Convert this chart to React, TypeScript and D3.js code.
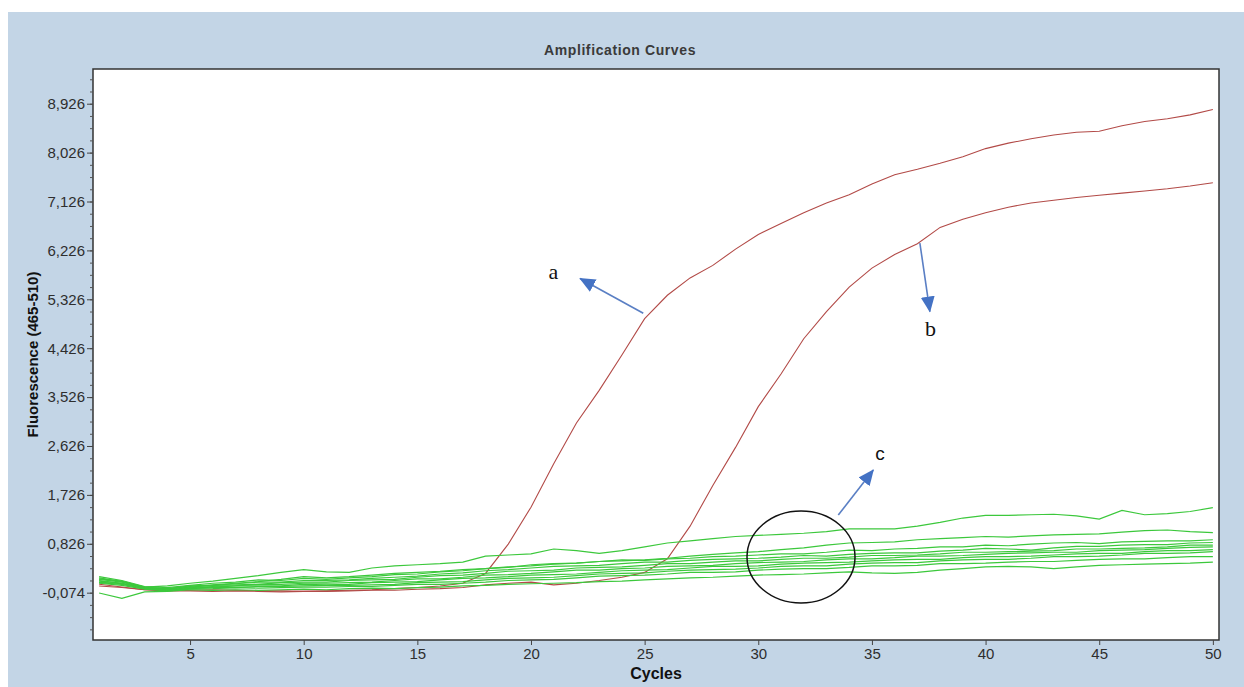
import React, { useEffect, useRef } from 'react';
import * as d3 from 'd3';

// cycles on the x axis
const cycles = [
  1, 2, 3, 4, 5, 6, 7, 8, 9, 10, 11, 12, 13, 14, 15, 16, 17, 18, 19, 20, 21, 22, 23, 24, 25,
  26, 27, 28, 29, 30, 31, 32, 33, 34, 35, 36, 37, 38, 39, 40, 41, 42, 43, 44, 45, 46, 47, 48, 49, 50,
];

// positive samples (red)
const curveA = [
  0.05, 0.02, -0.02, -0.03, -0.03, -0.02, -0.03, -0.04, -0.04, -0.05, -0.04, -0.03, -0.02, 0.0, 0.02,
  0.05, 0.1, 0.28, 0.82, 1.5, 2.3, 3.05, 3.65, 4.3, 4.97, 5.4, 5.72, 5.95, 6.25, 6.52, 6.72, 6.92,
  7.1, 7.25, 7.45, 7.62, 7.72, 7.83, 7.95, 8.1, 8.2, 8.28, 8.35, 8.4, 8.42, 8.52, 8.6, 8.65, 8.72, 8.82,
];
const curveB = [
  0.08, 0.03, -0.02, -0.04, -0.04, -0.05, -0.04, -0.05, -0.06, -0.05, -0.05, -0.04, -0.03, -0.03, -0.01,
  0.0, 0.02, 0.07, 0.1, 0.12, 0.07, 0.1, 0.15, 0.21, 0.3, 0.55, 1.15, 1.9, 2.6, 3.35, 3.95, 4.6, 5.1,
  5.55, 5.9, 6.15, 6.35, 6.65, 6.8, 6.92, 7.02, 7.1, 7.15, 7.2, 7.24, 7.28, 7.32, 7.36, 7.41, 7.47,
];
const redSeries = [curveA, curveB];

// negative samples (green)
const g1 = [
  0.18, 0.14, 0.03, 0.05, 0.1, 0.14, 0.19, 0.24, 0.3, 0.35, 0.31, 0.3, 0.38, 0.42, 0.44, 0.46, 0.49,
  0.6, 0.62, 0.64, 0.73, 0.7, 0.65, 0.7, 0.77, 0.84, 0.88, 0.92, 0.96, 0.98, 1.0, 1.02, 1.05, 1.1, 1.1,
  1.1, 1.15, 1.22, 1.3, 1.35, 1.35, 1.36, 1.37, 1.34, 1.28, 1.44, 1.36, 1.38, 1.42, 1.49,
];
const g2 = [
  0.15, 0.1, 0.02, 0.0, 0.04, 0.07, 0.1, 0.13, 0.17, 0.22, 0.2, 0.22, 0.25, 0.28, 0.3, 0.32, 0.35, 0.37,
  0.4, 0.42, 0.45, 0.47, 0.5, 0.51, 0.53, 0.56, 0.6, 0.63, 0.66, 0.68, 0.72, 0.75, 0.8, 0.84, 0.85, 0.86,
  0.9, 0.92, 0.94, 0.96, 0.95, 0.97, 0.99, 1.0, 1.01, 1.04, 1.07, 1.08, 1.05, 1.03,
];
const g3 = [
  0.22, 0.15, 0.04, 0.02, 0.06, 0.1, 0.12, 0.16, 0.15, 0.19, 0.17, 0.2, 0.22, 0.26, 0.27, 0.31, 0.33,
  0.37, 0.39, 0.44, 0.46, 0.47, 0.5, 0.53, 0.52, 0.55, 0.56, 0.59, 0.6, 0.62, 0.64, 0.64, 0.67, 0.71, 0.7,
  0.73, 0.74, 0.77, 0.77, 0.8, 0.79, 0.82, 0.84, 0.85, 0.83, 0.86, 0.87, 0.88, 0.88, 0.9,
];
const g4 = [
  0.2, 0.13, 0.03, 0.0, 0.05, 0.06, 0.09, 0.12, 0.12, 0.15, 0.15, 0.16, 0.19, 0.21, 0.23, 0.27, 0.29,
  0.33, 0.35, 0.38, 0.41, 0.42, 0.43, 0.46, 0.49, 0.49, 0.52, 0.54, 0.55, 0.56, 0.58, 0.61, 0.6, 0.63,
  0.65, 0.66, 0.66, 0.69, 0.71, 0.74, 0.73, 0.71, 0.75, 0.78, 0.78, 0.8, 0.81, 0.81, 0.84, 0.85,
];
const g5 = [
  0.17, 0.12, 0.02, -0.01, 0.03, 0.06, 0.07, 0.08, 0.11, 0.12, 0.12, 0.15, 0.16, 0.17, 0.21, 0.24, 0.25,
  0.28, 0.32, 0.33, 0.34, 0.38, 0.39, 0.4, 0.43, 0.46, 0.46, 0.49, 0.51, 0.51, 0.54, 0.56, 0.56, 0.58,
  0.61, 0.61, 0.62, 0.64, 0.67, 0.67, 0.68, 0.69, 0.7, 0.73, 0.73, 0.74, 0.75, 0.77, 0.8, 0.8,
];
const g6 = [
  0.14, 0.1, 0.01, -0.02, 0.02, 0.04, 0.05, 0.08, 0.08, 0.1, 0.1, 0.11, 0.12, 0.15, 0.18, 0.18, 0.21,
  0.25, 0.26, 0.28, 0.31, 0.34, 0.34, 0.37, 0.38, 0.41, 0.42, 0.43, 0.46, 0.48, 0.49, 0.5, 0.53, 0.55,
  0.55, 0.57, 0.6, 0.6, 0.61, 0.63, 0.65, 0.66, 0.67, 0.67, 0.7, 0.71, 0.72, 0.74, 0.76, 0.77,
];
const g7 = [
  0.12, 0.09, 0.01, -0.03, 0.01, 0.03, 0.05, 0.05, 0.05, 0.08, 0.07, 0.08, 0.11, 0.12, 0.13, 0.16, 0.19,
  0.2, 0.22, 0.25, 0.26, 0.27, 0.3, 0.33, 0.34, 0.35, 0.38, 0.41, 0.41, 0.42, 0.45, 0.47, 0.48, 0.49,
  0.51, 0.53, 0.54, 0.54, 0.57, 0.59, 0.59, 0.6, 0.62, 0.64, 0.65, 0.65, 0.68, 0.7, 0.7, 0.72,
];
const g8 = [
  0.11, 0.08, 0.0, -0.03, 0.0, 0.02, 0.02, 0.04, 0.04, 0.05, 0.06, 0.06, 0.07, 0.08, 0.11, 0.12, 0.13,
  0.16, 0.19, 0.2, 0.21, 0.24, 0.27, 0.28, 0.29, 0.32, 0.34, 0.35, 0.36, 0.38, 0.41, 0.42, 0.42, 0.45,
  0.47, 0.48, 0.48, 0.51, 0.53, 0.54, 0.54, 0.56, 0.59, 0.59, 0.6, 0.62, 0.65, 0.65, 0.66, 0.68,
];
const g9 = [
  0.1, 0.06, -0.01, -0.04, -0.01, 0.0, 0.02, 0.01, 0.02, 0.03, 0.03, 0.04, 0.04, 0.06, 0.08, 0.08, 0.1,
  0.12, 0.15, 0.16, 0.17, 0.2, 0.23, 0.24, 0.25, 0.27, 0.3, 0.3, 0.31, 0.34, 0.36, 0.37, 0.37, 0.39,
  0.42, 0.42, 0.43, 0.46, 0.46, 0.47, 0.49, 0.5, 0.5, 0.52, 0.54, 0.55, 0.55, 0.57, 0.59, 0.59,
];
const g10 = [
  -0.08, -0.18, -0.06, -0.05, -0.02, -0.03, -0.02, -0.03, -0.02, -0.01, -0.02, 0.0, 0.01, 0.0, 0.02,
  0.03, 0.05, 0.06, 0.08, 0.09, 0.1, 0.11, 0.13, 0.14, 0.16, 0.18, 0.2, 0.21, 0.23, 0.25, 0.26, 0.27,
  0.29, 0.31, 0.29, 0.28, 0.3, 0.34, 0.37, 0.4, 0.41, 0.4, 0.37, 0.4, 0.43, 0.44, 0.45, 0.46, 0.47, 0.49,
];
const greenSeries = [g1, g2, g3, g4, g5, g6, g7, g8, g9, g10];

// axis ticks
const xTicks = [5, 10, 15, 20, 25, 30, 35, 40, 45, 50];
const yTicks = [-0.074, 0.826, 1.726, 2.626, 3.526, 4.426, 5.326, 6.226, 7.126, 8.026, 8.926];

// annotations, in data units (cycle, fluorescence)
const annoLabels = ['a', 'b', 'c'];
const annoFrom = [[24.94, 5.07], [37.11, 6.36], [33.52, 1.355]];
const annoTo = [[22.16, 5.71], [37.55, 5.1], [35.06, 2.184]];
const annoText = [[20.98, 5.83], [37.58, 4.79], [35.36, 2.49]];
const circleCenter = [31.88, 0.583];
const circleRadius = [2.376, 0.847];

export default function App() {
  const svgRef = useRef<SVGSVGElement>(null);

  useEffect(() => {
    const width = 1244;
    const height = 687;
    const plot = { left: 93, top: 69, right: 1219, bottom: 640 };

    const svg = d3.select(svgRef.current);
    svg.selectAll('*').remove();
    svg.attr('width', width).attr('height', height);

    // background panel
    svg.append('rect')
      .attr('x', 8).attr('y', 12)
      .attr('width', width - 8).attr('height', height - 12)
      .attr('fill', '#c3d5e6');

    svg.append('rect')
      .attr('x', plot.left).attr('y', plot.top)
      .attr('width', plot.right - plot.left).attr('height', plot.bottom - plot.top)
      .attr('fill', '#ffffff');

    const x = d3.scaleLinear().domain([0.73, 50.27]).range([plot.left, plot.right]);
    const y = d3.scaleLinear().domain([-0.945, 9.565]).range([plot.bottom, plot.top]);

    const defs = svg.append('defs');
    defs.append('clipPath').attr('id', 'plot-clip')
      .append('rect')
      .attr('x', plot.left).attr('y', plot.top)
      .attr('width', plot.right - plot.left).attr('height', plot.bottom - plot.top);

    defs.append('marker')
      .attr('id', 'arrow-head')
      .attr('markerUnits', 'userSpaceOnUse')
      .attr('markerWidth', 16).attr('markerHeight', 14)
      .attr('refX', 15).attr('refY', 7)
      .attr('orient', 'auto')
      .append('path')
      .attr('d', 'M0,0 L16,7 L0,14 Z')
      .attr('fill', '#4472c4');

    const line = d3.line<number>()
      .x((_, i) => x(cycles[i]))
      .y(d => y(d));

    const curves = svg.append('g').attr('clip-path', 'url(#plot-clip)');

    curves.selectAll('path.red')
      .data(redSeries)
      .join('path')
      .attr('class', 'red')
      .attr('d', d => line(d))
      .attr('fill', 'none')
      .attr('stroke', '#b24a47')
      .attr('stroke-width', 1.1);

    curves.selectAll('path.green')
      .data(greenSeries)
      .join('path')
      .attr('class', 'green')
      .attr('d', d => line(d))
      .attr('fill', 'none')
      .attr('stroke', '#3cc83c')
      .attr('stroke-width', 1.2);

    // frame
    svg.append('rect')
      .attr('x', plot.left).attr('y', plot.top)
      .attr('width', plot.right - plot.left).attr('height', plot.bottom - plot.top)
      .attr('fill', 'none')
      .attr('stroke', '#333')
      .attr('stroke-width', 1.5);

    const fmt = (v: number) => v.toFixed(3).replace('.', ',');

    // y axis
    const minorY = d3.range(-0.974, 9.5, 0.225).filter(v => v > -0.945 && v < 9.565);
    svg.append('g')
      .attr('transform', `translate(${plot.left},0)`)
      .call(d3.axisLeft(y).tickValues(minorY).tickSize(3).tickFormat(() => ''))
      .call(g => g.select('.domain').remove())
      .call(g => g.selectAll('line').attr('stroke', '#555'));

    const yAxis = svg.append('g')
      .attr('transform', `translate(${plot.left},0)`)
      .call(d3.axisLeft(y).tickValues(yTicks).tickSize(6).tickPadding(2)
        .tickFormat(d => fmt(d as number)));
    yAxis.select('.domain').remove();
    yAxis.selectAll('line').attr('stroke', '#444');
    yAxis.selectAll('text')
      .attr('fill', '#2e2e2e')
      .style('font-family', '"Liberation Sans", Arial, sans-serif')
      .style('font-size', '15px');

    // x axis
    const xAxis = svg.append('g')
      .attr('transform', `translate(0,${plot.bottom})`)
      .call(d3.axisBottom(x).tickValues(xTicks).tickSize(5).tickPadding(3));
    xAxis.select('.domain').remove();
    xAxis.selectAll('line').attr('stroke', '#444');
    xAxis.selectAll('text')
      .attr('fill', '#2e2e2e')
      .style('font-family', '"Liberation Sans", Arial, sans-serif')
      .style('font-size', '15px');

    // titles
    svg.append('text')
      .attr('x', 620).attr('y', 55)
      .attr('text-anchor', 'middle')
      .attr('fill', '#3a3a3a')
      .style('font-family', '"Liberation Sans", Arial, sans-serif')
      .style('font-size', '14px')
      .style('font-weight', 'bold')
      .style('letter-spacing', '0.6px')
      .text('Amplification Curves');

    svg.append('text')
      .attr('x', (plot.left + plot.right) / 2).attr('y', 679)
      .attr('text-anchor', 'middle')
      .attr('fill', '#111')
      .style('font-family', '"Liberation Sans", Arial, sans-serif')
      .style('font-size', '16px')
      .style('font-weight', 'bold')
      .text('Cycles');

    svg.append('text')
      .attr('transform', `translate(38,${(plot.top + plot.bottom) / 2}) rotate(-90)`)
      .attr('text-anchor', 'middle')
      .attr('fill', '#111')
      .style('font-family', '"Liberation Sans", Arial, sans-serif')
      .style('font-size', '15px')
      .style('font-weight', 'bold')
      .text('Fluorescence (465-510)');

    // annotations
    const anno = svg.append('g');
    annoLabels.forEach((label, i) => {
      anno.append('line')
        .attr('x1', x(annoFrom[i][0])).attr('y1', y(annoFrom[i][1]))
        .attr('x2', x(annoTo[i][0])).attr('y2', y(annoTo[i][1]))
        .attr('stroke', '#5a7fc4')
        .attr('stroke-width', 1.6)
        .attr('marker-end', 'url(#arrow-head)');

      anno.append('text')
        .attr('x', x(annoText[i][0])).attr('y', y(annoText[i][1]))
        .attr('text-anchor', 'middle')
        .attr('dominant-baseline', 'central')
        .attr('fill', '#111')
        .style('font-family', label === 'c'
          ? '"Liberation Sans", Arial, sans-serif'
          : '"Liberation Serif", "Times New Roman", serif')
        .style('font-size', label === 'c' ? '19px' : '22px')
        .text(label);
    });

    anno.append('ellipse')
      .attr('cx', x(circleCenter[0])).attr('cy', y(circleCenter[1]))
      .attr('rx', x(circleCenter[0] + circleRadius[0]) - x(circleCenter[0]))
      .attr('ry', y(circleCenter[1] - circleRadius[1]) - y(circleCenter[1]))
      .attr('fill', 'none')
      .attr('stroke', '#111')
      .attr('stroke-width', 1.5);
  }, []);

  return (
    <div style={{ position: 'absolute', left: 0, top: 0 }}>
      <svg ref={svgRef} style={{ display: 'block' }}></svg>
    </div>
  );
}
